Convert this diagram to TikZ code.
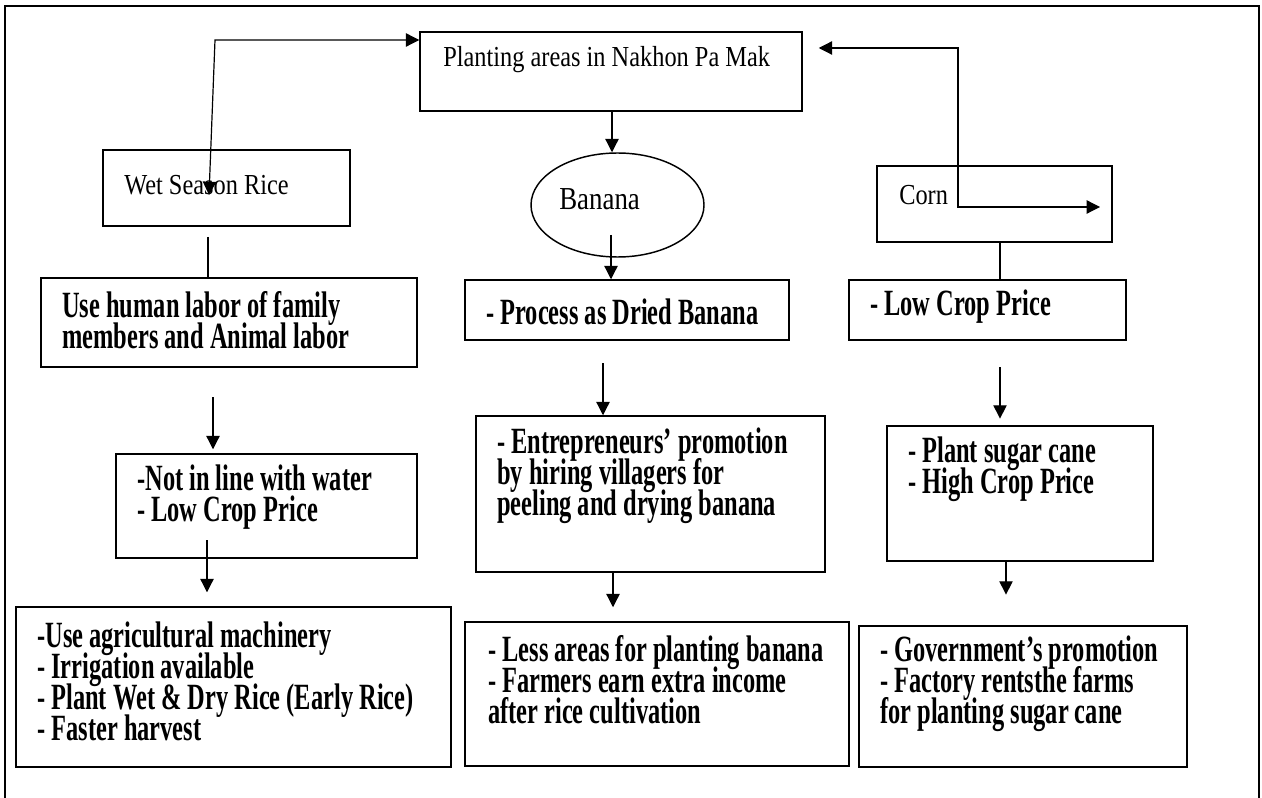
\documentclass[tikz,border=0pt]{standalone}
\usepackage{fontspec}
\newfontfamily\headfont[FakeStretch=0.84]{Liberation Serif}
\newfontfamily\bodyfont[FakeStretch=0.66]{Liberation Serif}
\usetikzlibrary{arrows.meta,fit,shapes.geometric}
\lineskiplimit=-100pt
\tikzset{
  box/.style={draw, line width=1.1pt, inner sep=0pt},
  headtext/.style={font=\headfont\fontsize{21.75}{26}\selectfont, anchor=west, inner sep=0pt},
  bodytext/.style={font=\bodyfont\bfseries\fontsize{27.75}{23.25}\selectfont, align=left, anchor=west, inner sep=0pt},
  arrow/.style={->, line width=0.9pt},
  plain/.style={line width=0.9pt},
}
\begin{document}
\begin{tikzpicture}[x=0.75pt, y=-0.75pt, >={Triangle[length=10pt,width=10pt]}]
\useasboundingbox (0,0) rectangle (1262,798);

% Frame
\draw[line width=1.5pt] (5,798) -- (5,6) -- (1259,6) -- (1259,798);

% Top box and the three crops
\node[box, fit={(420,32) (802,111)}] (planting) {};
\node[headtext] (plantingtext) at (443,60) {Planting areas in Nakhon Pa Mak};
\node[box, fit={(103,150) (350,226)}] (wet) {};
\node[headtext] (wettext) at (124,185) {Wet Season Rice};
\node[box, ellipse, minimum width=129.75pt, minimum height=78pt] (banana) at (617.5,205) {};
\node[headtext, font=\headfont\fontsize{24}{26}\selectfont] (bananatext) at (559,199) {Banana};
\node[box, fit={(877,166) (1112,242)}] (corn) {};
\node[headtext] (corntext) at (899,195) {Corn};

% Second row
\node[box, fit={(41,278) (417,367)}] (labor) {};
\node[bodytext] (labortext) at (62,320) {Use human labor of family\\members and Animal labor};
\node[box, fit={(465,280) (789,340)}] (dried) {};
\node[bodytext] (driedtext) at (486,312) {- Process as Dried Banana};
\node[box, fit={(849,280) (1126,340)}] (lowcorn) {};
\node[bodytext] (lowcorntext) at (870,307) {- Low Crop Price};

% Third row
\node[box, fit={(116,454) (417,558)}] (water) {};
\node[bodytext] (watertext) at (137,497) {-Not in line with water\\- Low Crop Price};
\node[box, fit={(476,416) (825,572)}] (hiring) {};
\node[bodytext] (hiringtext) at (497,476) {- Entrepreneurs’ promotion\\by hiring villagers for\\peeling and drying banana};
\node[box, fit={(887,426) (1153,561)}] (sugar) {};
\node[bodytext] (sugartext) at (908,469) {- Plant sugar cane\\- High Crop Price};

% Bottom row
\node[box, fit={(16,607) (451,767)}] (machine) {};
\node[bodytext] (machinetext) at (37,681) {-Use agricultural machinery\\- Irrigation available\\- Plant Wet \& Dry Rice (Early Rice)\\- Faster harvest};
\node[box, fit={(465,622) (849,766)}] (income) {};
\node[bodytext] (incometext) at (488,680) {- Less areas for planting banana\\- Farmers earn extra income\\after rice cultivation};
\node[box, fit={(859,626) (1187,767)}] (factory) {};
\node[bodytext] (factorytext) at (880,684) {- Government’s promotion\\- Factory rentsthe farms\\for planting sugar cane};

% Loops back to the top box
\coordinate (wetin) at (209,195);
\coordinate (wetbend) at (215,40);
\draw[<->, line width=0.9pt] (wetin) -- (wetbend) -- (planting.west |- wetbend);
\coordinate (cornin) at (1100,207);
\coordinate (cornbend) at (958,207);
\draw[<->, line width=0.9pt, shorten >=12pt] (cornin) -- (cornbend) -- (958,48) -- (planting.east |- 0,48);

% Down the columns
\draw[arrow] (planting.south -| 612,0) -- (banana.north -| 612,0);
\coordinate (wetout) at (208,237);
\draw[plain] (wetout) -- (wetout |- labor.north);
\coordinate (bananaout) at (611,235);
\draw[arrow] (bananaout) -- (bananaout |- dried.north);
\draw[plain] (corn.south -| 1000,0) -- (lowcorn.north -| 1000,0);
\coordinate (laborout) at (213,397);
\draw[arrow, shorten >=3pt] (laborout) -- (laborout |- water.north);
\coordinate (driedout) at (603,363);
\draw[arrow] (driedout) -- (driedout |- hiring.north);
\coordinate (lowout) at (1000,367);
\draw[arrow, shorten >=5pt] (lowout) -- (lowout |- sugar.north);
\coordinate (waterout) at (207,540);
\draw[arrow, shorten >=10.5pt] (waterout) -- (waterout |- machine.north);
\draw[arrow, shorten >=10.5pt] (hiring.south -| 613,0) -- (income.north -| 613,0);
\draw[arrow, shorten >=23pt] (sugar.south -| 1006,0) -- (factory.north -| 1006,0);

\end{tikzpicture}
\end{document}
